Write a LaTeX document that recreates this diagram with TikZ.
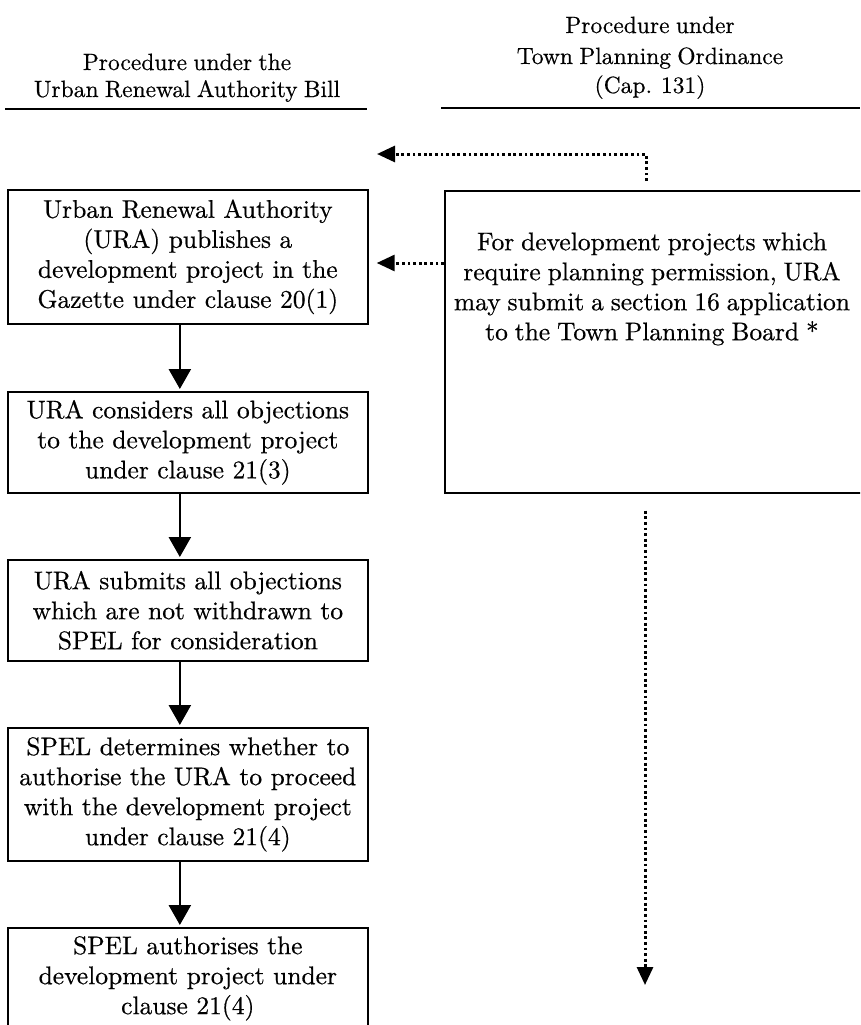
\documentclass[tikz,border=0pt]{standalone}
\usepackage{fontspec}
\setmainfont{lmroman10-regular.otf}[FakeBold=0.5]
\usetikzlibrary{arrows.meta}
\newcommand\bxfont{\fontsize{25.5}{30}\selectfont\spaceskip=6.9pt plus 1pt minus 1pt\relax}
\newcommand\hdfont{\fontsize{23.5}{28}\selectfont\spaceskip=6.3pt plus 1pt minus 1pt\relax}
\begin{document}
\begin{tikzpicture}[x=1pt,y=-1pt,
  box/.style={draw, line width=1.7pt, anchor=north west, minimum width=360pt,
    text width=352pt, align=center, inner sep=0pt, font=\bxfont},
  flow/.style={line width=2.6pt, shorten >=2pt, -{Triangle[length=20pt,width=22pt]}},
  dotflow/.style={line width=3pt, dash pattern=on 2.8pt off 2.8pt,
    -{Triangle[length=18pt,width=16pt]}},
  head/.style={anchor=base, font=\hdfont, inner sep=0pt},
  rule/.style={line width=2.2pt}]
\useasboundingbox (0,0) rectangle (860,1025);
\clip (0,0) rectangle (860,1025);

% headers
\node[head] (h1a) at (187,70) {Procedure under the};
\node[head] (h1b) at (187,97) {Urban Renewal Authority Bill};
\node[head] (h2a) at (650,33) {Procedure under};
\node[head] (h2b) at (650,64) {Town Planning Ordinance};
\node[head] (h2c) at (650,93) {(Cap. 131)};
\draw[rule] (5,109) -- (367,109);
\draw[rule] (441,108) -- (860,108);

% left column
\node[box, minimum height=134pt] (b1) at (7,189)
  {Urban Renewal Authority\\(URA) publishes a\\development project in the\\Gazette under clause 20(1)};
\node[box, minimum height=101pt] (b2) at (7,391)
  {URA considers all objections\\to the development project\\under clause 21(3)};
\node[box, minimum height=101pt] (b3) at (7,559)
  {URA submits all objections\\which are not withdrawn to\\SPEL for consideration};
\node[box, minimum height=133pt] (b4) at (7,727)
  {SPEL determines whether to\\authorise the URA to proceed\\with the development project\\under clause 21(4)};
\node[box, minimum height=101pt] (b5) at (7,927)
  {SPEL authorises the\\development project under\\clause 21(4)};

% right column
\node[draw, line width=1.7pt, anchor=north west, minimum width=440pt,
  minimum height=302pt, inner sep=0pt] (tpb) at (444,190) {};
\node[font=\bxfont, align=center, inner sep=0pt] (tpbt) at (652,289)
  {For development projects which\\require planning permission, URA\\may submit a section 16 application\\to the Town Planning Board *};

% solid connectors
\draw[flow] ([xshift=-8pt]b1.south) -- ([xshift=-8pt]b2.north);
\draw[flow] ([xshift=-8pt]b2.south) -- ([xshift=-8pt]b3.north);
\draw[flow] ([xshift=-8pt]b3.south) -- ([xshift=-8pt]b4.north);
\draw[flow] ([xshift=-8pt]b4.south) -- ([xshift=-8pt]b5.north);

% dotted connectors
\coordinate (mid) at (0,263);
\draw[dotflow] (tpb.west |- mid) -- ([xshift=8pt]b1.east |- mid);
\coordinate (tC) at (646,0);
\coordinate (tE) at (377,154);
\draw[dotflow, shorten <=9pt] (tpb.north -| tC) |- (tE);
\coordinate (rE) at (645,985);
\draw[dotflow, shorten <=17pt] (tpb.south -| rE) -- (rE);
\end{tikzpicture}
\end{document}
